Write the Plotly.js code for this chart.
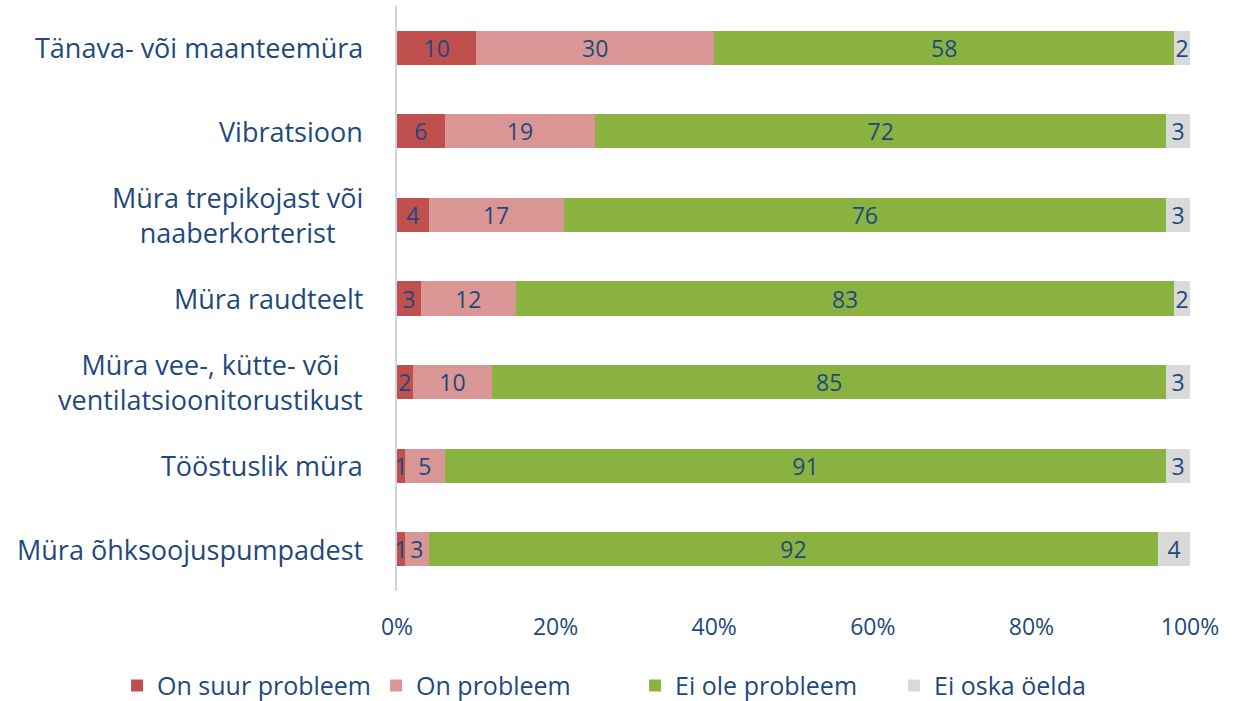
<!DOCTYPE html>
<html>
<head>
<meta charset="utf-8">
<script src="https://cdn.plot.ly/plotly-3.0.1.min.js"></script>
<style>html,body{margin:0;padding:0;background:#fff;}#chart{width:1235px;height:701px;}</style>
</head>
<body>
<div id="chart"></div>
<script>
const categories = [
  "Tänava- või maanteemüra",
  "Vibratsioon",
  "Müra trepikojast või<br>naaberkorterist",
  "Müra raudteelt",
  "Müra vee-, kütte- või<br>ventilatsioonitorustikust",
  "Tööstuslik müra",
  "Müra õhksoojuspumpadest"
];
const seriesNames = ["On suur probleem", "On probleem", "Ei ole probleem", "Ei oska öelda"];
const suurProbleem = [10, 6, 4, 3, 2, 1, 1];
const onProbleem   = [30, 19, 17, 12, 10, 5, 3];
const eiOleProbleem = [58, 72, 76, 83, 85, 91, 92];
const eiOska       = [2, 3, 3, 2, 3, 3, 4];
const tickVals = [0, 20, 40, 60, 80, 100];
const tickText = ["0%", "20%", "40%", "60%", "80%", "100%"];

const colors = ["#C0504D", "#D99694", "#8AB241", "#D9D9D9"];
const txtColor = "#1F497D";
const font = "'Open Sans', sans-serif";
const allSeries = [suurProbleem, onProbleem, eiOleProbleem, eiOska];

const traces = allSeries.map((vals, i) => ({
  type: "bar",
  orientation: "h",
  name: seriesNames[i],
  x: vals,
  y: categories,
  text: vals.map(String),
  textposition: "inside",
  insidetextanchor: "middle",
  textangle: 0,
  constraintext: "none",
  textfont: {family: font, size: 23, color: txtColor},
  insidetextfont: {family: font, size: 23, color: txtColor},
  marker: {color: colors[i], line: {width: 0}},
  hoverinfo: "skip"
}));

const annotations = categories.map(c => ({
  x: 0, y: c, xref: "x", yref: "y",
  text: c, showarrow: false,
  xanchor: "right", yanchor: "middle", align: "center",
  xshift: -32,
  font: {family: font, size: 27, color: txtColor}
}));

const layout = {
  width: 1235, height: 701,
  margin: {l: 397, r: 45, t: 6, b: 110, autoexpand: false},
  barmode: "stack",
  bargap: 0.59,
  paper_bgcolor: "#fff",
  plot_bgcolor: "#fff",
  font: {family: font, color: txtColor},
  xaxis: {
    range: [0, 100],
    tickvals: tickVals, ticktext: tickText,
    showgrid: false, zeroline: false, showline: false,
    ticks: "", ticklabelstandoff: 20,
    tickfont: {family: font, size: 23, color: txtColor},
    fixedrange: true
  },
  yaxis: {
    categoryorder: "array", categoryarray: categories,
    autorange: "reversed",
    showticklabels: false, ticks: "",
    showgrid: false, zeroline: false,
    showline: true, linecolor: "#C5D5EA", linewidth: 2,
    fixedrange: true
  },
  annotations: annotations,
  legend: {
    orientation: "h", x: -0.353, xanchor: "left", xref: "paper",
    y: -0.162, yanchor: "middle", yref: "paper",
    font: {family: font, size: 25, color: txtColor},
    itemwidth: 30, traceorder: "normal",
    itemsizing: "constant",
    entrywidth: 214, entrywidthmode: "pixels"
  },
  showlegend: true,
  uniformtext: {mode: "show", minsize: 20}
};

Plotly.newPlot("chart", traces, layout, {displayModeBar: false, staticPlot: true});
</script>
</body>
</html>
